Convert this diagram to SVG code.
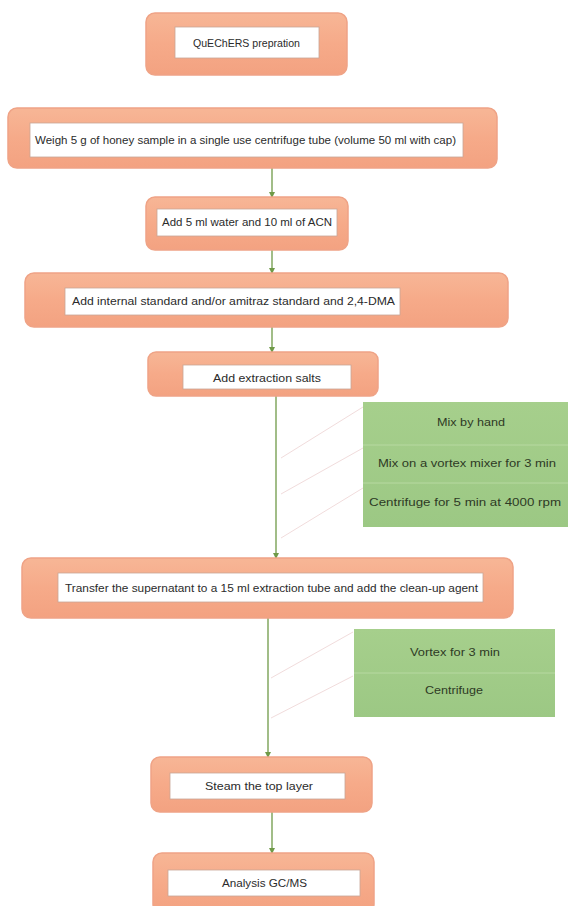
<svg xmlns="http://www.w3.org/2000/svg" width="568" height="906" viewBox="0 0 568 906">
<style>
.outer{fill:url(#og);stroke:#EFA386;stroke-width:1.5}
.inner{fill:#FFFFFF;stroke:#C9A596;stroke-width:0.8}
.t{font-family:"Liberation Sans",Arial,sans-serif;font-size:10.5px;fill:#2B2B2B}
.tl{font-family:"Liberation Sans",Arial,sans-serif;font-size:11.5px;fill:#2B2B2B}
.g{fill:url(#gg)}
.gt{font-family:"Liberation Sans",Arial,sans-serif;font-size:11px;fill:#2E3A25}
.c{stroke:#6F9A48;stroke-width:1.3;fill:none}
.f{stroke:#F1DCDC;stroke-width:1;fill:none}
.div{stroke:#B7D9A1;stroke-width:1}
</style>
<defs>
<linearGradient id="og" x1="0" y1="0" x2="0" y2="1">
<stop offset="0" stop-color="#F7B696"/>
<stop offset="0.5" stop-color="#F6AA89"/>
<stop offset="1" stop-color="#F3A281"/>
</linearGradient>
<linearGradient id="gg" x1="0" y1="0" x2="0" y2="1">
<stop offset="0" stop-color="#A6CF8C"/>
<stop offset="1" stop-color="#9CC884"/>
</linearGradient>
<marker id="ah" viewBox="0 0 6 6" refX="5" refY="3" markerWidth="5" markerHeight="5" orient="auto">
<path d="M0,0 L6,3 L0,6 z" fill="#6F9A48"/>
</marker>
</defs>
<rect width="568" height="906" fill="#FFFFFF"/>

<g id="connectors">
<line class="c" x1="272" y1="168" x2="272" y2="197" marker-end="url(#ah)"/>
<line class="c" x1="272" y1="250" x2="272" y2="273" marker-end="url(#ah)"/>
<line class="c" x1="272" y1="327" x2="272" y2="352" marker-end="url(#ah)"/>
<line class="c" x1="276" y1="396" x2="276" y2="558" marker-end="url(#ah)"/>
<line class="c" x1="268" y1="618" x2="268" y2="757" marker-end="url(#ah)"/>
<line class="c" x1="272" y1="812" x2="272" y2="853" marker-end="url(#ah)"/>
<line class="f" x1="281" y1="458" x2="363" y2="407"/>
<line class="f" x1="281" y1="494" x2="363" y2="448"/>
<line class="f" x1="281" y1="538" x2="363" y2="488"/>
<line class="f" x1="271" y1="678" x2="353" y2="632"/>
<line class="f" x1="271" y1="718" x2="353" y2="676"/>
</g>

<g id="n1">
<rect class="outer" x="146" y="13" width="201" height="62" rx="9"/>
<rect class="inner" x="175" y="27" width="144" height="31"/>
<text class="t" x="193" y="46.5" textLength="107" lengthAdjust="spacingAndGlyphs">QuEChERS prepration</text>
</g>

<g id="n2">
<rect class="outer" x="8" y="108" width="489" height="60" rx="9"/>
<rect class="inner" x="30" y="123" width="433" height="34"/>
<text class="t" x="35" y="144" textLength="421" lengthAdjust="spacingAndGlyphs">Weigh 5 g of honey sample in a single use centrifuge tube (volume 50 ml with cap)</text>
</g>

<g id="n3">
<rect class="outer" x="146" y="197" width="202" height="53" rx="9"/>
<rect class="inner" x="157" y="209" width="180" height="27"/>
<text class="t" x="162" y="226" textLength="170" lengthAdjust="spacingAndGlyphs">Add 5 ml water and 10 ml of ACN</text>
</g>

<g id="n4">
<rect class="outer" x="25" y="273" width="483" height="54" rx="9"/>
<rect class="inner" x="65" y="288" width="335" height="27"/>
<text class="t" x="72" y="304.5" textLength="323" lengthAdjust="spacingAndGlyphs">Add internal standard and/or amitraz standard and 2,4-DMA</text>
</g>

<g id="n5">
<rect class="outer" x="148" y="352" width="230" height="44" rx="8"/>
<rect class="inner" x="183" y="365" width="168" height="24"/>
<text class="tl" x="213" y="381.5" textLength="108" lengthAdjust="spacingAndGlyphs">Add extraction salts</text>
</g>

<g id="g1">
<rect class="g" x="363" y="402" width="205" height="125"/>
<line class="div" x1="363" y1="445" x2="568" y2="445"/>
<line class="div" x1="363" y1="483" x2="568" y2="483"/>
<text class="gt" x="437" y="426" textLength="68" lengthAdjust="spacingAndGlyphs">Mix by hand</text>
<text class="gt" x="378" y="467" textLength="178" lengthAdjust="spacingAndGlyphs">Mix on a vortex mixer for 3 min</text>
<text class="gt" x="369" y="506" textLength="192" lengthAdjust="spacingAndGlyphs">Centrifuge for 5 min at 4000 rpm</text>
</g>

<g id="n6">
<rect class="outer" x="22" y="558" width="491" height="60" rx="9"/>
<rect class="inner" x="58" y="573" width="425" height="29"/>
<text class="t" x="65" y="591.5" textLength="413" lengthAdjust="spacingAndGlyphs">Transfer the supernatant to a 15 ml extraction tube and add the clean-up agent</text>
</g>

<g id="g2">
<rect class="g" x="354" y="629" width="201" height="88"/>
<line class="div" x1="354" y1="673" x2="555" y2="673"/>
<text class="gt" x="410" y="656" textLength="90" lengthAdjust="spacingAndGlyphs">Vortex for 3 min</text>
<text class="gt" x="425" y="694" textLength="58" lengthAdjust="spacingAndGlyphs">Centrifuge</text>
</g>

<g id="n7">
<rect class="outer" x="151" y="757" width="221" height="55" rx="9"/>
<rect class="inner" x="170" y="773" width="175" height="26"/>
<text class="tl" x="205" y="790" textLength="108" lengthAdjust="spacingAndGlyphs">Steam the top layer</text>
</g>

<g id="n8">
<rect class="outer" x="153" y="853" width="221" height="60" rx="9"/>
<rect class="inner" x="168" y="870" width="192" height="26"/>
<text class="tl" x="222" y="887" textLength="85" lengthAdjust="spacingAndGlyphs">Analysis GC/MS</text>
</g>
</svg>
